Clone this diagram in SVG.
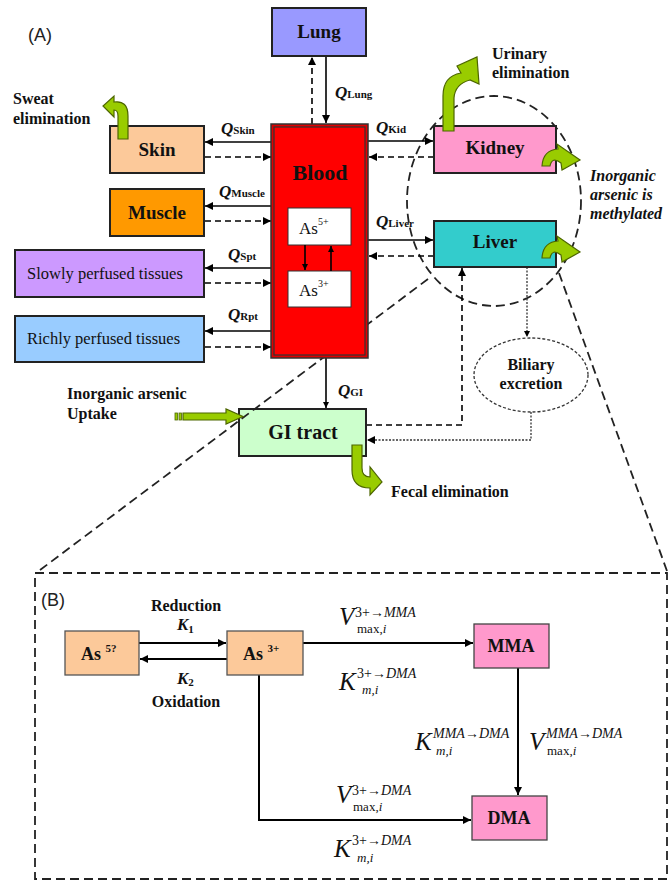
<svg xmlns="http://www.w3.org/2000/svg" width="669" height="885" viewBox="0 0 669 885">
<defs>
<marker id="ah" viewBox="0 0 10 10" refX="10" refY="5" markerWidth="9" markerHeight="8" markerUnits="userSpaceOnUse" orient="auto"><path d="M0,0 L10,5 L0,10 z" fill="#000"/></marker>
<marker id="ahs" viewBox="0 0 10 10" refX="10" refY="5" markerWidth="7" markerHeight="6" markerUnits="userSpaceOnUse" orient="auto"><path d="M0,0 L10,5 L0,10 z" fill="#000"/></marker>
<style>
.box{stroke:#222;stroke-width:2}
.t{font-family:"Liberation Serif","Times New Roman",serif;fill:#111}
.b{font-weight:bold}
.i{font-style:italic}
.lab{font-family:"Liberation Serif",serif;font-weight:bold;font-size:16px;fill:#111}
.sans{font-family:"Liberation Sans",Arial,sans-serif;font-size:18px;fill:#222}
.sol{stroke:#000;stroke-width:1.6;fill:none}
.das{stroke:#000;stroke-width:1.6;fill:none;stroke-dasharray:6,4}
.dot{stroke:#333;stroke-width:1.3;fill:none;stroke-dasharray:2,1.5}
.big{stroke:#222;stroke-width:1.8;fill:none;stroke-dasharray:9,5}
.green{fill:#99cc00;stroke:#4d6600;stroke-width:1.2}
.q{font-family:"Liberation Serif",serif;font-size:17px;font-weight:bold;font-style:italic;fill:#111}
.qs{font-size:11px;font-style:normal}
.m{font-family:"Liberation Serif",serif;fill:#111}
</style>
</defs>
<rect width="669" height="885" fill="#fff"/>

<text class="sans" x="28" y="41">(A)</text>
<text class="sans" x="41" y="606">(B)</text>

<!-- region B frame and zoom lines -->
<g id="frameB">
<line class="big" x1="559" y1="273" x2="667" y2="571"/>
<rect class="big" x="35" y="573" width="632" height="306"/>
<ellipse class="big" cx="494" cy="201" rx="87" ry="105"/>
</g>

<g id="connectors">
<!-- lung -->
<line class="das" x1="312" y1="124" x2="312" y2="57" marker-end="url(#ah)"/>
<line class="sol" x1="326" y1="56" x2="326" y2="123" marker-end="url(#ah)"/>
<!-- skin -->
<line class="sol" x1="271" y1="142" x2="205" y2="142" marker-end="url(#ah)"/>
<line class="das" x1="205" y1="157" x2="271" y2="157" marker-end="url(#ah)"/>
<!-- muscle -->
<line class="sol" x1="271" y1="206" x2="205" y2="206" marker-end="url(#ah)"/>
<line class="das" x1="205" y1="221" x2="271" y2="221" marker-end="url(#ah)"/>
<!-- slowly -->
<line class="sol" x1="271" y1="268" x2="205" y2="268" marker-end="url(#ah)"/>
<line class="das" x1="205" y1="283" x2="271" y2="283" marker-end="url(#ah)"/>
<!-- richly -->
<line class="sol" x1="271" y1="331" x2="205" y2="331" marker-end="url(#ah)"/>
<line class="das" x1="205" y1="347" x2="271" y2="347" marker-end="url(#ah)"/>
<!-- kidney -->
<line class="sol" x1="368" y1="141" x2="433" y2="141" marker-end="url(#ah)"/>
<line class="das" x1="434" y1="157" x2="369" y2="157" marker-end="url(#ah)"/>
<!-- liver -->
<line class="sol" x1="368" y1="240" x2="433" y2="240" marker-end="url(#ah)"/>
<line class="das" x1="434" y1="256" x2="369" y2="256" marker-end="url(#ah)"/>
<!-- GI -->
<line class="sol" x1="326" y1="358" x2="326" y2="408" marker-end="url(#ahs)"/>
<polyline class="das" points="366,425 462,425 462,268" marker-end="url(#ah)"/>
<line class="dot" x1="527" y1="267" x2="527" y2="337" marker-end="url(#ahs)"/>
<polyline class="dot" points="531,412 531,440 367,440" marker-end="url(#ah)"/>
<!-- panel B -->
<line class="sol" x1="139" y1="643" x2="226" y2="643" marker-end="url(#ah)" style="stroke-width:2"/>
<line class="sol" x1="227" y1="659" x2="140" y2="659" marker-end="url(#ah)" style="stroke-width:2"/>
<line class="sol" x1="303" y1="643" x2="473" y2="643" marker-end="url(#ah)" style="stroke-width:2"/>
<polyline class="sol" points="259,675 259,820 471,820" marker-end="url(#ah)" style="stroke-width:2"/>
<line class="sol" x1="518" y1="668" x2="518" y2="795" marker-end="url(#ah)" style="stroke-width:2"/>
</g>

<g id="lung">
<rect class="box" x="272" y="8" width="94" height="48" fill="#9999ff"/>
<text class="t b" x="319" y="38" font-size="19" text-anchor="middle">Lung</text>
</g>

<g id="skin">
<rect class="box" x="110" y="126" width="94" height="47" fill="#fcc99a"/>
<text class="t b" x="157" y="156" font-size="19" text-anchor="middle">Skin</text>
</g>
<g id="muscle">
<rect class="box" x="110" y="189" width="94" height="47" fill="#ff9900"/>
<text class="t b" x="157" y="219" font-size="19" text-anchor="middle">Muscle</text>
</g>
<g id="slowly">
<rect class="box" x="15" y="250" width="189" height="47" fill="#cc99ff"/>
<text class="t" x="27" y="279" font-size="16.5">Slowly perfused tissues</text>
</g>
<g id="richly">
<rect class="box" x="15" y="316" width="189" height="46" fill="#99ccff"/>
<text class="t" x="27" y="344" font-size="16.5">Richly perfused tissues</text>
</g>

<g id="kidney">
<rect class="box" x="434" y="126" width="122" height="47" fill="#ff99cc"/>
<text class="t b" x="495" y="154" font-size="19" text-anchor="middle">Kidney</text>
</g>
<g id="liver">
<rect class="box" x="434" y="221" width="122" height="46" fill="#33cccc"/>
<text class="t b" x="495" y="248" font-size="19" text-anchor="middle">Liver</text>
</g>

<g id="gi">
<rect class="box" x="239" y="409" width="127" height="47" fill="#ccffcc"/>
<text class="t b" x="303" y="439" font-size="20" text-anchor="middle">GI tract</text>
</g>
<line class="big" x1="428" y1="279" x2="36" y2="573"/>

<g id="blood">
<rect x="271" y="124" width="97" height="234" fill="#e00000" stroke="#333" stroke-width="1.5"/>
<rect x="274" y="127" width="91" height="228" fill="#ff0000" stroke="#333" stroke-width="1.2"/>
<text class="t b" x="320" y="180" font-size="22" text-anchor="middle">Blood</text>
<rect x="288" y="208" width="63" height="37" fill="#fff" stroke="#333" stroke-width="1"/>
<text class="t" x="299" y="234" font-size="17">As<tspan font-size="10" dy="-9">5+</tspan></text>
<rect x="288" y="271" width="63" height="36" fill="#fff" stroke="#333" stroke-width="1"/>
<text class="t" x="299" y="296" font-size="17">As<tspan font-size="10" dy="-9">3+</tspan></text>
<line class="sol" x1="305" y1="245" x2="305" y2="270" marker-end="url(#ahs)"/>
<line class="sol" x1="331" y1="271" x2="331" y2="246" marker-end="url(#ahs)"/>
</g>

<g id="biliary">
<ellipse cx="531" cy="375" rx="57" ry="37" fill="none" stroke="#333" stroke-width="1.3" stroke-dasharray="3,2"/>
<text class="lab" x="531" y="370" text-anchor="middle" font-size="15">Biliary</text>
<text class="lab" x="531" y="389" text-anchor="middle" font-size="15">excretion</text>
</g>

<!-- green arrows -->
<g id="green-arrows">
<path class="green" d="M118,139 V116 Q118,110 114,110 L114,117 L103,106 L114,96 L114,102 Q128,100 128,116 V139 Z"/>
<path class="green" d="M443,131 V96 Q443,76 461,73 L457,66 L477,57 L479,84 L470,80 Q455,84 454,98 V131 Z"/>
<path class="green" d="M542,166 Q543,150 558,149 L557,144 L580,160 L562,170 L561,163 Q552,156 550,166 Z"/>
<path class="green" d="M542,258 Q543,242 558,241 L557,236 L580,252 L562,262 L561,255 Q552,248 550,258 Z"/>
<path class="green" d="M352,445 V470 Q352,488 370,488 L370,495 L382,482 L370,467 L370,477 Q362,477 362,468 V445 Z"/>
<rect x="175" y="413" width="2.5" height="7" class="green" style="stroke-width:0.8"/>
<rect x="179" y="413" width="2.5" height="7" class="green" style="stroke-width:0.8"/>
<path class="green" d="M183,413 H226 V409 L243,416.5 L226,424 V420 H183 Z"/>
</g>

<!-- Q labels -->
<g id="q-labels">
<text class="q" x="335" y="98">Q<tspan class="qs">Lung</tspan></text>
<text class="q" x="221" y="134">Q<tspan class="qs">Skin</tspan></text>
<text class="q" x="219" y="197">Q<tspan class="qs">Muscle</tspan></text>
<text class="q" x="228" y="260">Q<tspan class="qs">Spt</tspan></text>
<text class="q" x="228" y="320">Q<tspan class="qs">Rpt</tspan></text>
<text class="q" x="376" y="133">Q<tspan class="qs">Kid</tspan></text>
<text class="q" x="376" y="227">Q<tspan class="qs">Liver</tspan></text>
<text class="q" x="338" y="396">Q<tspan class="qs">GI</tspan></text>
</g>

<!-- free labels -->
<text class="lab" x="13" y="104">Sweat</text>
<text class="lab" x="13" y="124">elimination</text>
<text class="lab" x="492" y="59">Urinary</text>
<text class="lab" x="492" y="78">elimination</text>
<text class="lab i" x="590" y="181">Inorganic</text>
<text class="lab i" x="590" y="200">arsenic is</text>
<text class="lab i" x="590" y="219">methylated</text>
<text class="lab" x="67" y="399">Inorganic arsenic</text>
<text class="lab" x="67" y="419">Uptake</text>
<text class="lab" x="391" y="497">Fecal elimination</text>

<!-- panel B nodes -->
<g id="as5">
<rect x="65" y="631" width="74" height="44" fill="#fcc99a" stroke="#555" stroke-width="1.3"/>
<text class="t b" x="81" y="660" font-size="18">As <tspan font-size="11" dy="-8">5?</tspan></text>
</g>
<g id="as3">
<rect x="227" y="631" width="76" height="44" fill="#fcc99a" stroke="#555" stroke-width="1.3"/>
<text class="t b" x="243" y="660" font-size="18">As <tspan font-size="11" dy="-8">3+</tspan></text>
</g>
<g id="mma">
<rect x="474" y="624" width="75" height="44" fill="#ff99cc" stroke="#444" stroke-width="1.3"/>
<text class="t b" x="511" y="652" font-size="18" text-anchor="middle">MMA</text>
</g>
<g id="dma">
<rect x="472" y="796" width="75" height="44" fill="#ff99cc" stroke="#444" stroke-width="1.3"/>
<text class="t b" x="509" y="824" font-size="18" text-anchor="middle">DMA</text>
</g>

<text class="lab" x="186" y="611" text-anchor="middle">Reduction</text>
<text class="q" x="177" y="630" font-size="16">K<tspan class="qs" dy="3">1</tspan></text>
<text class="q" x="177" y="684" font-size="16">K<tspan class="qs" dy="2">2</tspan></text>
<text class="lab" x="186" y="707" text-anchor="middle">Oxidation</text>

<!-- rate labels -->
<g class="m">
<text class="i" x="339" y="625" font-size="25">V</text>
<text x="355" y="617" font-size="14">3+→<tspan font-style="italic">MMA</tspan></text>
<text x="357" y="633" font-size="13">max,<tspan font-style="italic">i</tspan></text>

<text class="i" x="339" y="690" font-size="25">K</text>
<text x="357" y="678" font-size="14">3+→<tspan font-style="italic">DMA</tspan></text>
<text class="i" x="362" y="694" font-size="13">m,i</text>

<text class="i" x="415" y="750" font-size="25">K</text>
<text class="i" x="433" y="738" font-size="14">MMA→DMA</text>
<text class="i" x="436" y="755" font-size="13">m,i</text>

<text class="i" x="529" y="750" font-size="25">V</text>
<text class="i" x="546" y="738" font-size="14">MMA→DMA</text>
<text x="547" y="755" font-size="13">max,<tspan font-style="italic">i</tspan></text>

<text class="i" x="336" y="803" font-size="25">V</text>
<text x="352" y="795" font-size="14">3+→<tspan font-style="italic">DMA</tspan></text>
<text x="353" y="811" font-size="13">max,<tspan font-style="italic">i</tspan></text>

<text class="i" x="334" y="857" font-size="25">K</text>
<text x="352" y="845" font-size="14">3+→<tspan font-style="italic">DMA</tspan></text>
<text class="i" x="357" y="862" font-size="13">m,i</text>
</g>
</svg>
